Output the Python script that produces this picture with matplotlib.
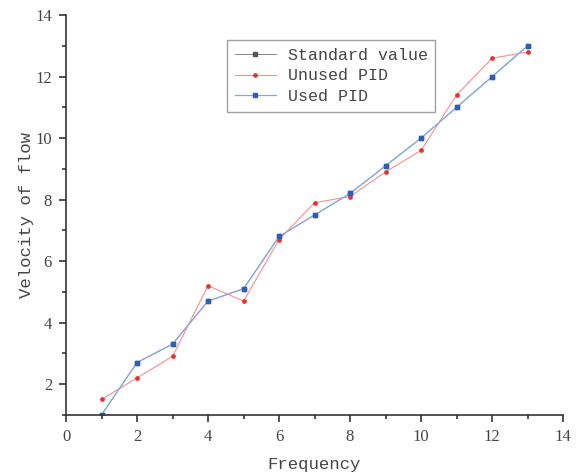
import matplotlib.pyplot as plt
from matplotlib.ticker import MultipleLocator

# data
freq = [1, 2, 3, 4, 5, 6, 7, 8, 9, 10, 11, 12, 13]
standard = [1.0, 2.7, 3.3, 4.7, 5.1, 6.8, 7.5, 8.2, 9.1, 10.0, 11.0, 12.0, 13.0]
unused_pid = [1.5, 2.2, 2.9, 5.2, 4.7, 6.7, 7.9, 8.1, 8.9, 9.6, 11.4, 12.6, 12.8]
used_pid = [1.0, 2.7, 3.3, 4.7, 5.1, 6.8, 7.5, 8.2, 9.1, 10.0, 11.0, 12.0, 13.0]

plt.rcParams['font.family'] = ['Liberation Mono', 'DejaVu Sans Mono']

fig = plt.figure(figsize=(5.76, 4.73), dpi=100)
ax = fig.add_axes([0.1146, 0.123, 0.863, 0.845])

ax.plot(freq, standard, color='#555555', lw=0.5, marker='s', ms=2.3, label='Standard value')
ax.plot(freq, unused_pid, color='#f59090', lw=0.8, marker='o', ms=2.4,
        mfc='#e83030', mec='#e83030', label='Unused PID')
ax.plot(freq, used_pid, color='#86a8dc', lw=0.9, marker='s', ms=2.5,
        mfc='#2f5fb0', mec='#2f5fb0', label='Used PID')

ax.set_xlim(0, 14)
ax.set_ylim(1, 14)
ax.xaxis.set_major_locator(MultipleLocator(2))
ax.xaxis.set_minor_locator(MultipleLocator(1))
ax.yaxis.set_major_locator(MultipleLocator(2))
ax.yaxis.set_minor_locator(MultipleLocator(1))
ax.spines['top'].set_visible(False)
ax.spines['right'].set_visible(False)
for s in ('left', 'bottom'):
    ax.spines[s].set_color('#333333')
    ax.spines[s].set_linewidth(1.2)
ax.tick_params(which='major', direction='out', length=5, width=1.2, colors='#333333',
               labelsize=12, labelcolor='#444444', pad=5)
ax.tick_params(which='minor', direction='out', length=3, width=1.2, colors='#333333')
for lbl in ax.get_xticklabels() + ax.get_yticklabels():
    lbl.set_family('Liberation Serif')

ax.set_xlabel('Frequency', fontsize=12.5, color='#444444', labelpad=9)
ax.set_ylabel('Velocity of flow', fontsize=12.5, color='#444444', labelpad=1)

leg = ax.legend(loc='upper left', bbox_to_anchor=(0.324, 0.9375), fontsize=12,
                frameon=True, fancybox=False, handlelength=2.5, borderpad=0.45,
                labelspacing=0.35, handletextpad=0.7, borderaxespad=0)
leg.get_frame().set_edgecolor('#888888')
leg.get_frame().set_linewidth(1.0)
for t in leg.get_texts():
    t.set_color('#444444')

fig.savefig('out.png', dpi=100)
